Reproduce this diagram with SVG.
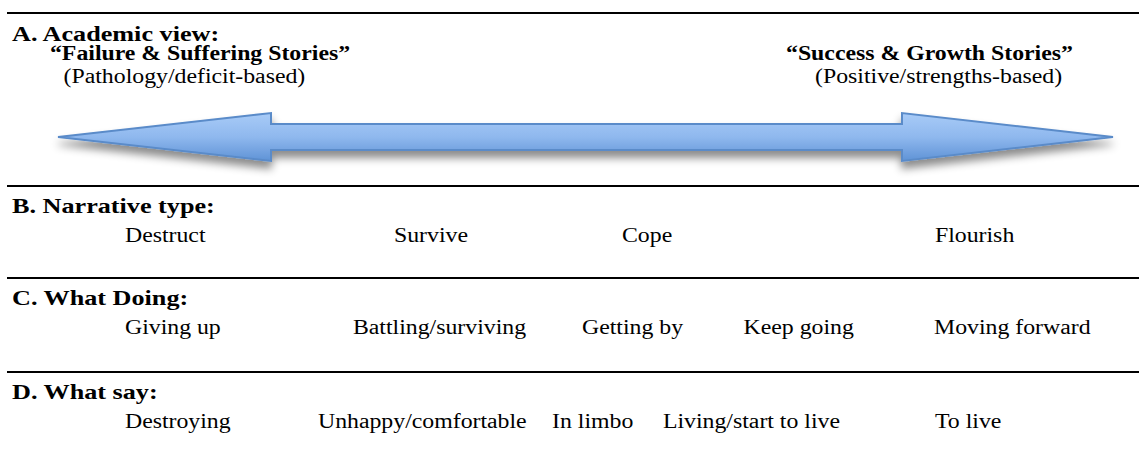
<svg xmlns="http://www.w3.org/2000/svg" width="1139" height="453" viewBox="0 0 1139 453">
<style>
.t{font-family:"Liberation Serif","Times New Roman",serif;fill:#000;}
.h{font-size:22px;font-weight:bold;}
.s{font-size:20px;font-weight:bold;}
.r{font-size:20px;}
.rule{stroke:#000;stroke-width:2;fill:none;}
</style>
<defs>
<linearGradient id="arrowFill" x1="0" y1="0" x2="0" y2="1">
<stop offset="0" stop-color="#a8cbf7"/>
<stop offset="0.5" stop-color="#8fb8ee"/>
<stop offset="1" stop-color="#5f93d6"/>
</linearGradient>
<filter id="shadow" x="-5%" y="-50%" width="110%" height="220%">
<feDropShadow dx="0" dy="7" stdDeviation="4" flood-color="#000" flood-opacity="0.45"/>
</filter>
</defs>
<rect width="1139" height="453" fill="#fff"/>
<g id="rules">
<line class="rule" x1="7" y1="13" x2="1139" y2="13"/>
<line class="rule" x1="7" y1="186" x2="1139" y2="186"/>
<line class="rule" x1="7" y1="278" x2="1139" y2="278"/>
<line class="rule" x1="7" y1="372" x2="1139" y2="372"/>
</g>
<g id="connectors">
<polygon points="58,137 271,113 271,124 902,124 902,113 1113,137 902,161 902,150 271,150 271,161" fill="url(#arrowFill)" stroke="#5a8bc9" stroke-width="2" stroke-linejoin="miter" filter="url(#shadow)"/>
</g>
<g id="sectionA" transform="scale(1.19,1)">
<text class="t h" x="10.1" y="41">A. Academic view:</text>
<text class="t s" x="42" y="60">“Failure &amp; Suffering Stories”</text>
<text class="t r" x="53.4" y="83">(Pathology/deficit-based)</text>
<text class="t s" x="660.5" y="60">“Success &amp; Growth Stories”</text>
<text class="t r" x="684.9" y="83">(Positive/strengths-based)</text>
</g>
<g id="sectionB" transform="scale(1.19,1)">
<text class="t h" x="10.1" y="213">B. Narrative type:</text>
<text class="t r" x="105" y="242">Destruct</text>
<text class="t r" x="331.1" y="242">Survive</text>
<text class="t r" x="522.7" y="242">Cope</text>
<text class="t r" x="785.7" y="242">Flourish</text>
</g>
<g id="sectionC" transform="scale(1.19,1)">
<text class="t h" x="10.1" y="305">C. What Doing:</text>
<text class="t r" x="105" y="334">Giving up</text>
<text class="t r" x="296.6" y="334">Battling/surviving</text>
<text class="t r" x="489.1" y="334">Getting by</text>
<text class="t r" x="624.8" y="334">Keep going</text>
<text class="t r" x="784.9" y="334">Moving forward</text>
</g>
<g id="sectionD" transform="scale(1.19,1)">
<text class="t h" x="10.1" y="399">D. What say:</text>
<text class="t r" x="105" y="428">Destroying</text>
<text class="t r" x="267.2" y="428">Unhappy/comfortable</text>
<text class="t r" x="463.9" y="428">In limbo</text>
<text class="t r" x="557.1" y="428">Living/start to live</text>
<text class="t r" x="785.7" y="428">To live</text>
</g>
</svg>
